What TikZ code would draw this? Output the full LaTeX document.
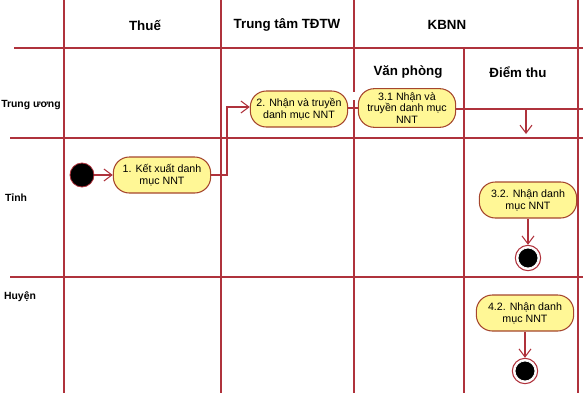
\documentclass[tikz,border=0pt]{standalone}
\usepackage{fontspec}
\setmainfont{Liberation Sans}
\usetikzlibrary{arrows.meta}
\definecolor{gridred}{RGB}{175,50,60}
\definecolor{nodefill}{RGB}{255,247,150}
\definecolor{nodeborder}{RGB}{165,70,45}
\tikzset{
  lane/.style={draw=gridred, line width=0.8pt},
  act/.style={draw=nodeborder, fill=nodefill, line width=0.8pt, rounded corners=12pt,
    minimum width=73pt, minimum height=27pt, align=center, inner sep=1pt,
    font=\fontsize{8}{9}\selectfont},
  hdr/.style={font=\fontsize{10}{12}\selectfont\bfseries},
  rowlbl/.style={font=\fontsize{7.8}{9}\selectfont\bfseries},
  flow/.style={draw=gridred, line width=0.8pt, -{Straight Barb[length=6pt,width=9pt]}},
  startdot/.style={circle, fill=black, draw=gridred, line width=0.6pt, minimum size=18pt, inner sep=0pt},
  endring/.style={circle, draw=gridred, line width=0.8pt, minimum size=19pt, inner sep=0pt},
  enddot/.style={circle, fill=black, draw=white, line width=0.6pt, minimum size=15pt, inner sep=0pt},
}
\begin{document}
\begin{tikzpicture}[x=0.75pt,y=-0.75pt]
\useasboundingbox (0,0) rectangle (583,404);
% grid
\draw[lane] (64,0) -- (64,393);
\draw[lane] (221,0) -- (221,393);
\draw[lane] (354,0) -- (354,92) (354,100) -- (354,393);
\draw[lane] (464,48) -- (464,393);
\draw[lane] (578,0) -- (578,393);
\draw[lane] (14,48) -- (583,48);
\draw[lane] (10,138) -- (583,138);
\draw[lane] (10,277) -- (583,277);
% headers
\node[hdr] (hThue) at (145,25) {Thuế};
\node[hdr] (hTT) at (287,25) {Trung tâm TĐTW};
\node[hdr] (hKB) at (447,25) {KBNN};
\node[hdr] (hVP) at (408,72) {Văn phòng};
\node[hdr] (hDT) at (518,72) {Điểm thu};
\node[rowlbl] (rTW) at (31,105) {Trung ương};
\node[rowlbl] (rT) at (16,198) {Tỉnh};
\node[rowlbl] (rH) at (20,297) {Huyện};
% nodes
\node[startdot] (start) at (82,175) {};
\node[act] (n1) at (162,175) {1. Kết xuất danh\\mục NNT};
\node[act] (n2) at (299,109) {2. Nhận và truyền\\danh mục NNT};
\node[act, minimum height=29pt, font=\fontsize{8}{8.8}\selectfont] (n31) at (407,108) {3.1 Nhận và\\truyền danh mục\\NNT};
\node[act] (n32) at (528,200) {3.2. Nhận danh\\mục NNT};
\node[act] (n42) at (525,313) {4.2. Nhận danh\\mục NNT};
\node[endring] (e1) at (528,258) {};
\node[enddot] at (e1) {};
\node[endring] (e2) at (525,371) {};
\node[enddot] at (e2) {};
\coordinate (c1) at (227,175);
\coordinate (c2) at (227,107);
\coordinate (rEnd) at (583,109);
\coordinate (dTop) at (526,109);
\coordinate (dBot) at (526,134);
% connectors
\draw[flow] (start) -- (n1);
\draw[flow] (n1.east) -- (c1) -- (c2) -- (n2.west |- c2);
\draw[draw=gridred, line width=0.8pt] (n2.east |- 0,108) -- (n31.west |- 0,108);
\draw[draw=gridred, line width=0.8pt] (n31.east |- rEnd) -- (rEnd);
\draw[flow] (dTop) -- (dBot);
\draw[flow] (n32) -- (e1);
\draw[flow] (n42) -- (e2);
\end{tikzpicture}
\end{document}
